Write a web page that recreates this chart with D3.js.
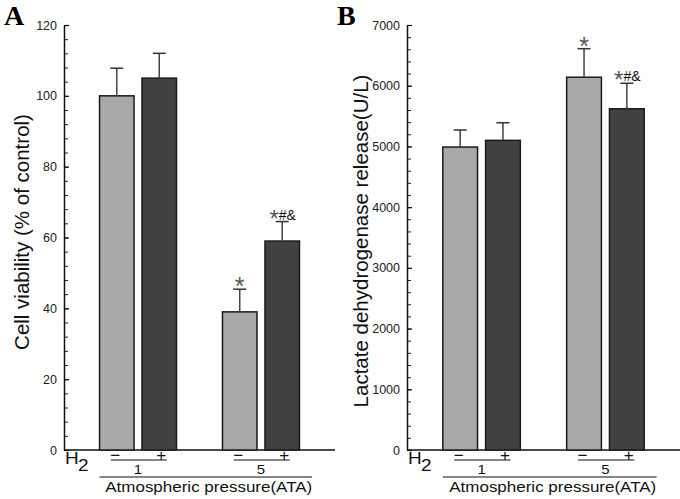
<!DOCTYPE html>
<html>
<head>
<meta charset="utf-8">
<script src="https://cdn.jsdelivr.net/npm/d3@7"></script>
<style>
  html, body { margin: 0; padding: 0; background: #fff; }
  svg { display: block; }
  text { font-family: "Liberation Sans", Arial, Helvetica, sans-serif; }
</style>
</head>
<body>
<svg id="chart" width="680" height="499"></svg>
<script>
// ---- data ----
const groups = ["1", "5"];                 // atmospheric pressure (ATA)
const h2Levels = ["\u2212", "+"];          // H2 absent / present
const viabilityMean = [100, 105, 39, 59];
const viabilityErr = [7.8, 7.0, 6.4, 5.5];
const viabilityMarks = ["", "", "*", "*#&"];
const viabilityTicks = [0, 20, 40, 60, 80, 100, 120];
const ldhMean = [4990, 5100, 6140, 5620];
const ldhErr = [280, 290, 470, 420];
const ldhMarks = ["", "", "*", "*#&"];
const ldhTicks = [0, 1000, 2000, 3000, 4000, 5000, 6000, 7000];
const barColors = ["#a9a9a9", "#414141"];

const svg = d3.select("#chart");

function panel(o) {
  const g = svg.append("g");
  const y = d3.scaleLinear().domain([0, o.max]).range([450, 25]);
  const xg = d3.scaleBand().domain(groups).range([o.x0, o.x1]).paddingInner(0.374).paddingOuter(0.289);
  const xs = d3.scaleBand().domain(h2Levels).range([0, xg.bandwidth()]).paddingInner(0.188).paddingOuter(0);

  const rows = [];
  groups.forEach((gr, gi) => h2Levels.forEach((h, hi) => {
    const i = gi * 2 + hi;
    rows.push({ gr, h, hi, mean: o.mean[i], err: o.err[i], mark: o.marks[i] });
  }));
  const cx = d => xg(d.gr) + xs(d.h) + xs.bandwidth() / 2;

  // panel letter
  g.append("text").attr("x", o.letterX).attr("y", 25)
    .style("font-family", "'Liberation Serif','Times New Roman',serif")
    .style("font-weight", "bold").style("font-size", "28px").text(o.letter);

  // minor ticks
  g.append("g").attr("transform", `translate(${o.x0},0)`)
    .call(d3.axisLeft(y).tickValues(d3.range(0, o.max + 1e-9, o.minor)).tickSize(-4).tickFormat(""))
    .call(a => a.select(".domain").remove())
    .call(a => a.selectAll("line").attr("stroke", "#222").attr("stroke-width", 1));
  // major ticks + labels
  g.append("g").attr("transform", `translate(${o.x0},0)`)
    .call(d3.axisLeft(y).tickValues(o.ticks).tickFormat(d3.format("d")).tickSize(-5).tickSizeOuter(0).tickPadding(7))
    .call(a => a.select(".domain").attr("stroke", "#111").attr("stroke-width", 1.5))
    .call(a => a.selectAll("line").attr("stroke", "#111").attr("stroke-width", 1.2))
    .call(a => a.selectAll("text").style("font-size", "12.5px").attr("fill", "#222")
      .style("font-family", "'Liberation Sans', Arial, sans-serif"));

  // x axis line
  g.append("line").attr("x1", o.x0).attr("x2", o.x1).attr("y1", y(0)).attr("y2", y(0))
    .attr("stroke", "#111").attr("stroke-width", 1.5);

  // bars
  g.selectAll("rect.bar").data(rows).join("rect").attr("class", "bar")
    .attr("x", d => xg(d.gr) + xs(d.h)).attr("width", xs.bandwidth())
    .attr("y", d => y(d.mean)).attr("height", d => y(0) - y(d.mean))
    .attr("fill", d => barColors[d.hi]).attr("stroke", "#1a1a1a").attr("stroke-width", 1.5);

  // error bars (upper)
  g.selectAll("line.err").data(rows).join("line").attr("class", "err")
    .attr("x1", cx).attr("x2", cx).attr("y1", d => y(d.mean)).attr("y2", d => y(d.mean + d.err))
    .attr("stroke", "#444").attr("stroke-width", 1.5);
  g.selectAll("line.cap").data(rows).join("line").attr("class", "cap")
    .attr("x1", d => cx(d) - 6.5).attr("x2", d => cx(d) + 6.5)
    .attr("y1", d => y(d.mean + d.err)).attr("y2", d => y(d.mean + d.err))
    .attr("stroke", "#333").attr("stroke-width", 1.5);

  // significance marks
  rows.filter(d => d.mark).forEach(d => {
    const ty = y(d.mean + d.err);
    if (d.mark === "*") {
      g.append("text").attr("x", cx(d)).attr("y", ty + 6).attr("text-anchor", "middle")
        .style("font-size", "25px").attr("fill", "#555").text("*");
    } else {
      const t = g.append("text").attr("x", cx(d) + 0.5).attr("y", ty - 2).attr("text-anchor", "middle");
      t.append("tspan").style("font-size", "24px").attr("fill", "#555").attr("dy", 7).text(d.mark[0]);
      t.append("tspan").style("font-size", "14px").attr("fill", "#111").attr("dy", -7).text(d.mark.slice(1));
    }
  });

  // H2 label
  const h = g.append("g").attr("transform", `translate(${o.x0 + 1},464) scale(1,0.82)`);
  h.append("text").attr("x", 0).attr("y", 0).style("font-size", "19px").attr("fill", "#111").text("H");
  h.append("text").attr("x", 13).attr("y", 9).style("font-size", "19px").attr("fill", "#111").text("2");

  // -/+ signs with group underline
  rows.forEach(d => {
    g.append("text").attr("x", cx(d) + (d.hi === 0 ? -1.5 : 2)).attr("y", 461)
      .attr("text-anchor", "middle").style("font-size", "17px").attr("fill", "#111").text(d.h);
  });
  groups.forEach(gr => {
    const a = xg(gr) + xs(h2Levels[0]) + xs.bandwidth() / 2 - 6;
    const b = xg(gr) + xs(h2Levels[1]) + xs.bandwidth() / 2 + 7.5;
    g.append("line").attr("x1", a).attr("x2", b).attr("y1", 460).attr("y2", 460)
      .attr("stroke", "#111").attr("stroke-width", 1.2);
    g.append("g").attr("transform", `translate(${xg(gr) + xg.bandwidth() / 2},474) scale(1,0.82)`)
      .append("text").attr("text-anchor", "middle").style("font-size", "15px").attr("fill", "#111").text(gr);
  });
  const la = xg(groups[0]);
  const lb = xg(groups[1]) + xg.bandwidth() + 12.5;
  g.append("line").attr("x1", la).attr("x2", lb).attr("y1", 477).attr("y2", 477)
    .attr("stroke", "#111").attr("stroke-width", 1.2);
  g.append("g").attr("transform", `translate(${(la + lb) / 2 + 3},492) scale(1,0.82)`)
    .append("text").attr("text-anchor", "middle").style("font-size", "17px").attr("fill", "#111")
    .text("Atmospheric pressure(ATA)");

  // y title
  g.append("text").attr("transform", `translate(${o.titleX},${o.titleY}) rotate(-90)`)
    .attr("text-anchor", "middle").style("font-size", "20.5px").attr("fill", "#111").text(o.title);
}

panel({ letter: "A", letterX: 4, x0: 64, x1: 335, max: 120, minor: 4, ticks: viabilityTicks,
  mean: viabilityMean, err: viabilityErr, marks: viabilityMarks,
  title: "Cell viability (% of control)", titleX: 29, titleY: 232 });
panel({ letter: "B", letterX: 337, x0: 407, x1: 680, max: 7000, minor: 200, ticks: ldhTicks,
  mean: ldhMean, err: ldhErr, marks: ldhMarks,
  title: "Lactate dehydrogenase release(U/L)", titleX: 368, titleY: 241 });
</script>
</body>
</html>
